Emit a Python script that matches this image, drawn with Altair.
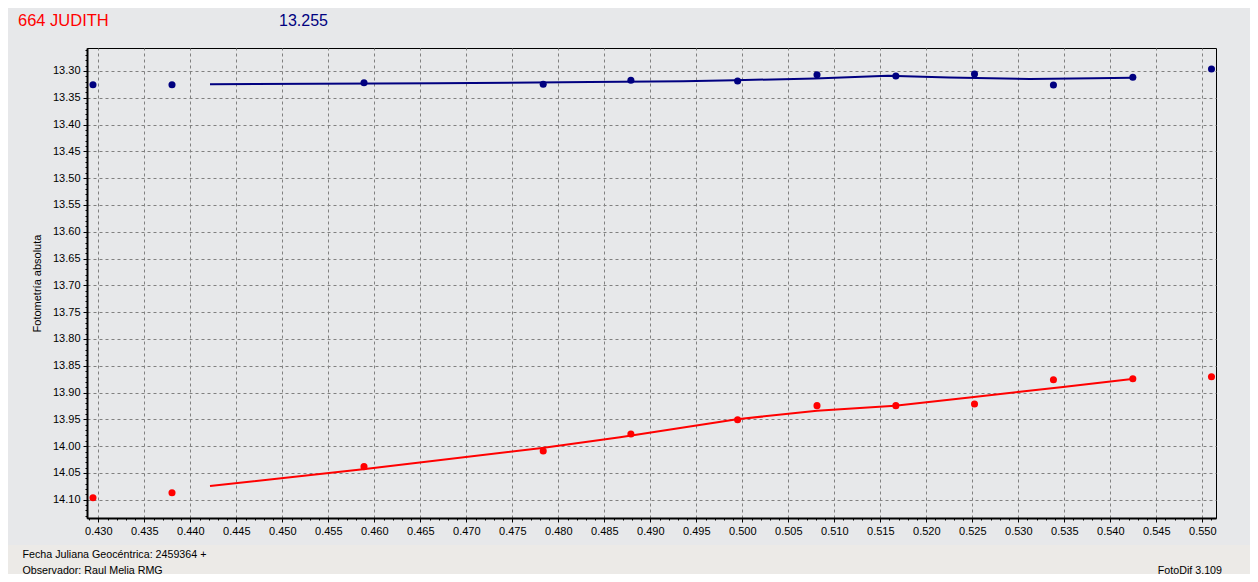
import altair as alt
import pandas as pd

# ---- data ----
jd = [0.42942, 0.43801, 0.45888, 0.47836, 0.48789, 0.49949,
      0.50812, 0.51669, 0.52524, 0.53382, 0.54245, 0.55100]
mag_comp = [13.3256, 13.3256, 13.3218, 13.3248, 13.3174, 13.3187,
            13.3069, 13.3093, 13.3056, 13.3261, 13.3118, 13.2963]
mag_ast = [14.0961, 14.0868, 14.0382, 14.0090, 13.9772, 13.9506,
           13.9244, 13.9244, 13.9213, 13.8759, 13.8741, 13.8703]

fit_comp_x = [0.44214, 0.46670, 0.48344, 0.49355, 0.49920, 0.50790,
              0.51584, 0.52247, 0.53127, 0.53823, 0.54236]
fit_comp_y = [13.3246, 13.3229, 13.3205, 13.3190, 13.3172, 13.3140,
              13.3091, 13.3121, 13.3149, 13.3134, 13.3125]

fit_ast_x = [0.44214, 0.45877, 0.47823, 0.48671, 0.49942, 0.50812,
             0.51660, 0.52518, 0.53018, 0.53486, 0.54236]
fit_ast_y = [14.0743, 14.0431, 14.0034, 13.9834, 13.9498, 13.9338,
             13.9244, 13.9082, 13.8983, 13.8896, 13.8746]

x_ticks = [round(0.429 + i * 0.001, 3) for i in range(123)]
y_ticks = [round(13.26 + i * 0.01, 2) for i in range(88)]

title_left = "664 JUDITH"
title_mag = "13.255"
y_title = "Fotometría absoluta"
footer_1 = "Fecha Juliana Geocéntrica: 2459364 +"
footer_2 = "Observador: Raul Melia RMG"
footer_3 = "FotoDif 3.109"

NAVY = "#000080"
RED = "#FF0000"
BG = "#E7E8EA"
FONT = "Liberation Sans"

pts = pd.DataFrame({"jd": jd, "comp": mag_comp, "ast": mag_ast})
fit_c = pd.DataFrame({"jd": fit_comp_x, "mag": fit_comp_y})
fit_a = pd.DataFrame({"jd": fit_ast_x, "mag": fit_ast_y})

major_x = "abs(datum.value*200 - round(datum.value*200)) < 0.01"
major_y = "abs(datum.value*20 - round(datum.value*20)) < 0.01"

xscale = alt.Scale(domain=[0.42877, 0.55149], nice=False, zero=False)
yscale = alt.Scale(domain=[13.2571, 14.1340], nice=False, zero=False, reverse=True)

xaxis = alt.Axis(
    values=x_ticks, tickCount=1000, title=None,
    labelExpr=f"({major_x}) ? format(datum.value, '.3f') : ''",
    grid=True, gridColor="#808080", gridDash=[3, 3], gridWidth=1,
    gridOpacity={"condition": {"test": major_x, "value": 1}, "value": 0},
    tickSize={"condition": {"test": major_x, "value": 4}, "value": 2},
    tickColor="black", domainColor="black", domainWidth=2,
    labelFont=FONT, labelFontSize=11, labelColor="black", labelPadding=3,
    labelOverlap=False, labelFlush=False,
)
yaxis = alt.Axis(
    values=y_ticks, tickCount=1000, title=y_title,
    labelExpr=f"({major_y}) ? format(datum.value, '.2f') : ''",
    grid=True, gridColor="#808080", gridDash=[3, 3], gridWidth=1,
    gridOpacity={"condition": {"test": major_y, "value": 1}, "value": 0},
    tickSize={"condition": {"test": major_y, "value": 4}, "value": 2},
    tickColor="black", domainColor="black", domainWidth=2,
    labelFont=FONT, labelFontSize=11, labelColor="black", labelPadding=3,
    labelOverlap=False, labelFlush=False,
    titleFont=FONT, titleFontSize=11, titleFontWeight="normal", titleColor="black",
    titleAngle=270, titleAlign="center", titleBaseline="alphabetic",
    titleX=-46.5, titleY=235,
)

strip = alt.Chart(pd.DataFrame({"a": [0]})).mark_rect(color="#ECEAE7").encode(
    x=alt.value(-79), x2=alt.value(1163), y=alt.value(497), y2=alt.value(526)
)

comp_pts = alt.Chart(pts).mark_circle(size=50, opacity=1, color=NAVY).encode(
    x=alt.X("jd:Q", scale=xscale, axis=xaxis),
    y=alt.Y("comp:Q", scale=yscale, axis=yaxis),
)
ast_pts = alt.Chart(pts).mark_circle(size=50, opacity=1, color=RED).encode(
    x=alt.X("jd:Q", scale=xscale), y=alt.Y("ast:Q", scale=yscale)
)
comp_line = alt.Chart(fit_c).mark_line(color=NAVY, strokeWidth=2).encode(
    x=alt.X("jd:Q", scale=xscale), y=alt.Y("mag:Q", scale=yscale)
)
ast_line = alt.Chart(fit_a).mark_line(color=RED, strokeWidth=2).encode(
    x=alt.X("jd:Q", scale=xscale), y=alt.Y("mag:Q", scale=yscale)
)


def label(txt, x, y, color="black", size=11, align="left"):
    return alt.Chart(pd.DataFrame({"t": [txt]})).mark_text(
        font=FONT, fontSize=size, color=color, align=align, baseline="alphabetic"
    ).encode(x=alt.value(x), y=alt.value(y), text="t:N")


texts = [
    label(title_left, -69, -22, RED, 16.5),
    label(title_mag, 192, -22, NAVY, 16),
    label(footer_1, -64.5, 509.5, "black", 10.7),
    label(footer_2, -64.5, 525.5, "black", 10.7),
    label(footer_3, 1135, 525.5, "black", 10.7, "right"),
]

chart = alt.layer(strip, comp_line, ast_line, comp_pts, ast_pts, *texts).properties(
    width=1129, height=470, background=BG,
    padding={"left": 79, "top": 40, "right": 34, "bottom": 56},
    autosize=alt.AutoSizeParams(type="none"),
).configure_view(stroke="black", strokeWidth=1, fill=BG)

chart.save("out.html", embed_options={"renderer": "svg", "actions": False})
